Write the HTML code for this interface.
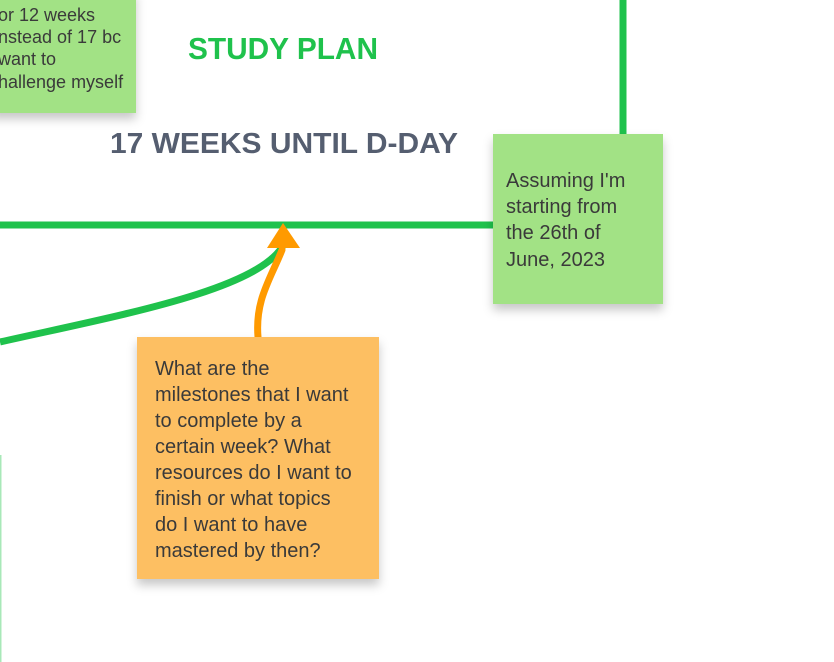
<!DOCTYPE html>
<html><head><style>
html,body{margin:0;padding:0;background:#fff;width:834px;height:662px;overflow:hidden}
</style></head><body>
<svg width="834" height="662" xmlns="http://www.w3.org/2000/svg" style="font-family:'Liberation Sans',sans-serif">
<defs>
<filter id="sh" x="-20%" y="-20%" width="140%" height="140%"><feDropShadow dx="0" dy="6" stdDeviation="5" flood-color="#000" flood-opacity="0.22"/></filter>
</defs>
<rect width="834" height="662" fill="#fff"/>
<line x1="0.5" y1="455" x2="0.5" y2="662" stroke="#a8e8b8" stroke-width="2"/>
<line x1="0" y1="225" x2="495" y2="225" stroke="#1fc24c" stroke-width="7"/>
<line x1="623" y1="0" x2="623" y2="136" stroke="#1fc24c" stroke-width="7"/>
<path d="M0 342 C120 315 260 290 284 244" fill="none" stroke="#1fc24c" stroke-width="7"/>
<path d="M258 337 C255 300 270 280 282 250" fill="none" stroke="#ff9a00" stroke-width="7" stroke-linecap="round"/>
<polygon points="283,223 267,248 300,248" fill="#ff9a00"/>
<rect x="-10" y="-10" width="146" height="123" fill="#a2e285" filter="url(#sh)"/>
<g font-size="18" fill="#3a3a3a">
<text x="-2" y="21">or 12 weeks</text>
<text x="-2" y="43">nstead of 17 bc</text>
<text x="-2" y="65">want to</text>
<text x="-2" y="88">hallenge myself</text>
</g>
<text x="188" y="59" font-size="31" font-weight="bold" fill="#1fc24c" textLength="190" lengthAdjust="spacingAndGlyphs">STUDY PLAN</text>
<text x="110" y="153" font-size="29" font-weight="bold" fill="#555e70" textLength="348" lengthAdjust="spacingAndGlyphs">17 WEEKS UNTIL D-DAY</text>
<rect x="493" y="134" width="170" height="170" fill="#a2e285" filter="url(#sh)"/>
<g font-size="20" fill="#3a3a3a">
<text x="506" y="187">Assuming I'm</text>
<text x="506" y="213">starting from</text>
<text x="506" y="239">the 26th of</text>
<text x="506" y="266">June, 2023</text>
</g>
<rect x="137" y="337" width="242" height="242" fill="#fdbf62" filter="url(#sh)"/>
<g font-size="20" fill="#3a3a3a">
<text x="155" y="375">What are the</text>
<text x="155" y="401">milestones that I want</text>
<text x="155" y="427">to complete by a</text>
<text x="155" y="453">certain week? What</text>
<text x="155" y="479">resources do I want to</text>
<text x="155" y="505">finish or what topics</text>
<text x="155" y="531">do I want to have</text>
<text x="155" y="557">mastered by then?</text>
</g>
</svg>
</body></html>
